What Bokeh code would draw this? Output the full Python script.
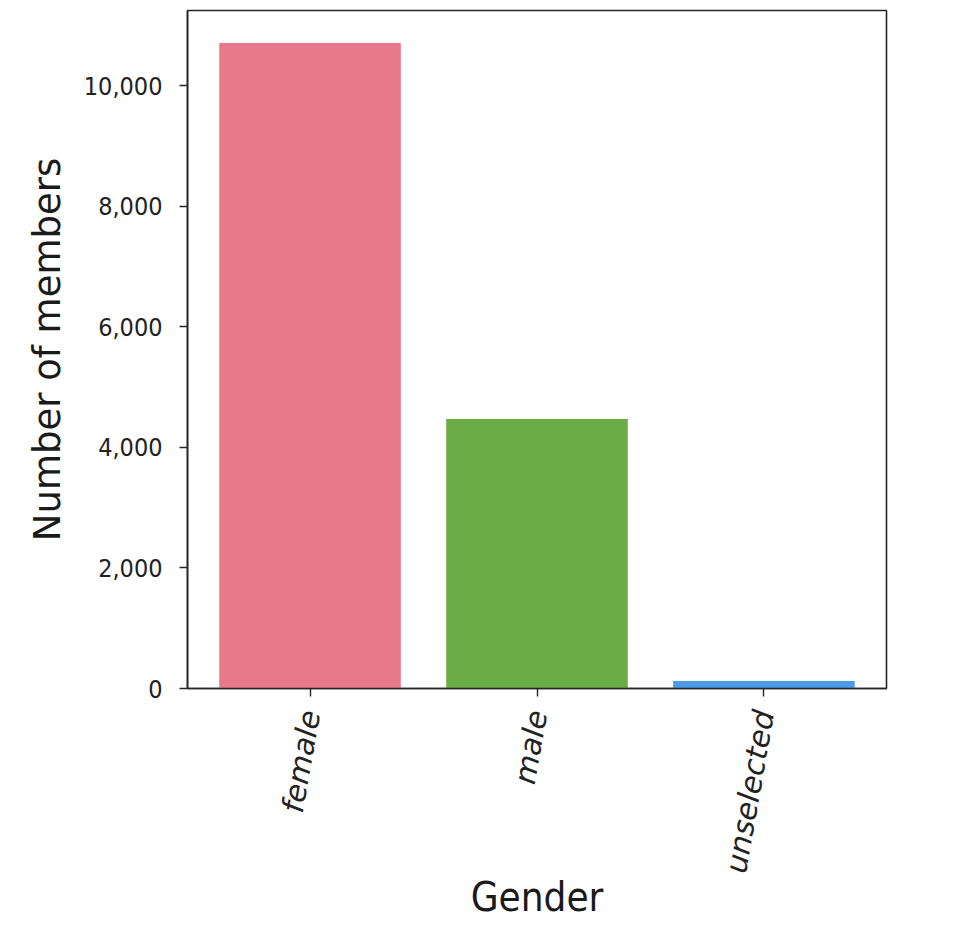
import math
from bokeh.plotting import figure
from bokeh.models import Range1d, FixedTicker, NumeralTickFormatter, ColumnDataSource
from bokeh.embed import file_html
from bokeh.resources import INLINE

categories = ["female", "male", "unselected"]
members = [10710, 4470, 125]
colors = ["#e8788a", "#6aac46", "#4d9be6"]
y_ticks = [0, 2000, 4000, 6000, 8000, 10000]

positions = list(range(len(categories)))
src = ColumnDataSource(dict(x=positions, top=members, color=colors, cat=categories))

p = figure(width=908, height=928, output_backend="svg", toolbar_location=None,
           x_range=Range1d(-0.54, len(categories) - 1 + 0.54),
           y_range=Range1d(0, 11250),
           min_border_left=187, min_border_top=10, min_border_right=22, min_border_bottom=240)

p.vbar(x="x", top="top", width=0.8, bottom=0, color="color", line_color=None, source=src)

p.xgrid.visible = False
p.ygrid.visible = False
p.outline_line_color = "#262626"
p.outline_line_width = 1.6
p.background_fill_color = "white"

ax = p.xaxis[0]
ax.ticker = FixedTicker(ticks=positions)
ax.major_label_overrides = {i: c for i, c in zip(positions, categories)}
ax.major_label_orientation = math.radians(80)
ax.major_label_text_font = "DejaVu Sans"
ax.major_label_text_font_style = "italic"
ax.major_label_text_font_size = "30px"
ax.major_label_text_color = "#222222"
ax.major_label_standoff = 14
ax.axis_label = "Gender"
ax.axis_label_text_font = "DejaVu Sans Condensed"
ax.axis_label_text_font_style = "normal"
ax.axis_label_text_font_size = "40px"
ax.axis_label_text_color = "#1a1a1a"
ax.axis_label_standoff = -8
ax.minor_tick_line_color = None
ax.major_tick_out = 8
ax.major_tick_in = 0
ax.axis_line_color = "#262626"
ax.axis_line_width = 1.6
ax.major_tick_line_color = "#262626"
ax.major_tick_line_width = 1.4

ay = p.yaxis[0]
ay.ticker = FixedTicker(ticks=y_ticks)
ay.formatter = NumeralTickFormatter(format="0,0")
ay.major_label_text_font = "DejaVu Sans Condensed"
ay.major_label_text_font_size = "25px"
ay.major_label_text_color = "#222222"
ay.major_label_standoff = 17
ay.axis_label = "Number of members"
ay.axis_label_text_font = "DejaVu Sans"
ay.axis_label_text_font_style = "normal"
ay.axis_label_text_font_size = "37px"
ay.axis_label_text_color = "#1a1a1a"
ay.axis_label_standoff = 12
ay.minor_tick_line_color = None
ay.major_tick_out = 8
ay.major_tick_in = 0
ay.axis_line_color = "#262626"
ay.axis_line_width = 1.6
ay.major_tick_line_color = "#262626"
ay.major_tick_line_width = 1.4

with open("out.html", "w") as f:
    f.write(file_html(p, INLINE))
